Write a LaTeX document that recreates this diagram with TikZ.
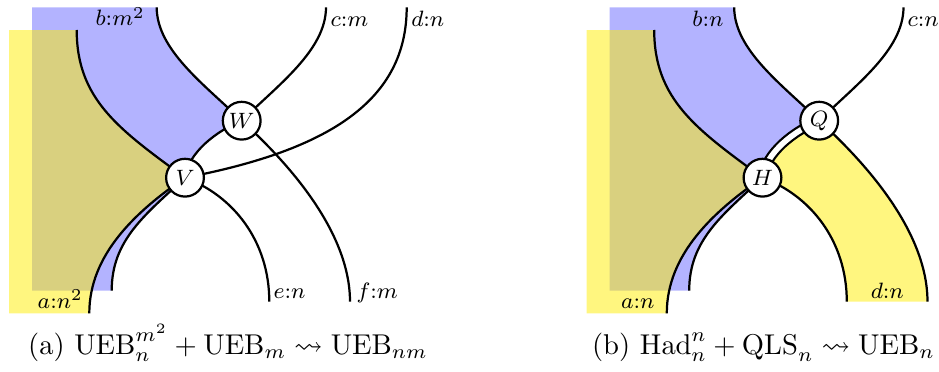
\documentclass[tikz,border=0pt]{standalone}
\usepackage{amssymb}
\usepackage{graphicx}
\pgfdeclarelayer{background}
\pgfsetlayers{background,main}
\definecolor{ueblue}{RGB}{179,179,255}
\definecolor{ueyel}{RGB}{255,237,0}
\begin{document}
\begin{tikzpicture}[x=0.36pt,y=-0.36pt,
  wire/.style={line width=0.8pt},
  bluereg/.style={fill=ueblue},
  yelreg/.style={fill=ueyel, fill opacity=0.5},
  gate/.style={circle, draw, line width=0.8pt, fill=white, minimum size=13.6pt, inner sep=0pt, font=\footnotesize},
  lbl/.style={font=\footnotesize, inner sep=0pt},
  captext/.style={font=\normalsize, inner sep=0pt, anchor=base}]
\useasboundingbox (0,0) rectangle (939,372);

% ---------------- left diagram ----------------
\node[gate] (W) at (241.7,120.7) {$W$};
\node[gate] (V) at (185,177.7) {$V$};
\coordinate (b1) at (156.7,7.3);
\coordinate (c1) at (326,7.3);
\coordinate (d1) at (406.7,7.3);
\coordinate (a1) at (76.7,30);
\coordinate (a2) at (89.3,313.3);
\coordinate (b2) at (111.7,290.7);
\coordinate (e1) at (269.3,301.7);
\coordinate (f1) at (350,301.7);
\begin{pgfonlayer}{background}
\fill[bluereg] (32,7.3) -- (b1) .. controls (156.7,50) and (205,85) .. (W.center)
  .. controls (216.7,130.7) and (188,152.7) .. (V.center)
  .. controls (145,215) and (111.7,240) .. (b2) -- (32,290.7) -- cycle;
\fill[yelreg] (9,30) -- (a1) .. controls (76.7,100) and (120,130) .. (V.center)
  .. controls (135,212) and (89.3,255) .. (a2) -- (9,313.3) -- cycle;
\draw[wire] (b1) .. controls (156.7,50) and (205,85) .. (W.center);
\draw[wire] (c1) .. controls (326,50) and (278,85) .. (W.center);
\draw[wire] (d1) .. controls (406.7,100) and (330,150) .. (V.center);
\draw[wire] (W.center) .. controls (216.7,130.7) and (188,152.7) .. (V.center);
\draw[wire] (a1) .. controls (76.7,100) and (120,130) .. (V.center);
\draw[wire] (V.center) .. controls (135,212) and (89.3,255) .. (a2);
\draw[wire] (V.center) .. controls (145,215) and (111.7,240) .. (b2);
\draw[wire] (V.center) .. controls (232,195) and (269.3,240) .. (e1);
\draw[wire] (W.center) .. controls (285,160) and (350,230) .. (f1);
\end{pgfonlayer}
\node[lbl, anchor=base east] (lb) at (145.3,26) {$b{:}m^2$};
\node[lbl, anchor=base west] (lc) at (330,26.5) {$c{:}m$};
\node[lbl, anchor=base west] (ld) at (410.7,26.5) {$d{:}n$};
\node[lbl, anchor=base east] (la) at (83.3,308) {$a{:}n^2$};
\node[lbl, anchor=base west] (le) at (273,298.3) {$e{:}n$};
\node[lbl, anchor=base west] (lf) at (356,298.3) {$f{:}m$};

% ---------------- right diagram ----------------
\begin{scope}[shift={(577.5,0)}]
\node[gate] (Q) at (241.7,120.7) {$Q$};
\node[gate] (H) at (185,177.7) {$H$};
\coordinate (rb1) at (156.7,7.3);
\coordinate (rc1) at (326,7.3);
\coordinate (ra1) at (76.7,30);
\coordinate (ra2) at (89.3,313.3);
\coordinate (rb2) at (111.7,290.7);
\coordinate (re1) at (269.3,301.7);
\coordinate (rf1) at (350,301.7);
\begin{pgfonlayer}{background}
\fill[bluereg] (32,7.3) -- (rb1) .. controls (156.7,50) and (205,85) .. (Q.center)
  .. controls (216.7,130.7) and (188,152.7) .. (H.center)
  .. controls (145,215) and (111.7,240) .. (rb2) -- (32,290.7) -- cycle;
\fill[yelreg] (9,30) -- (ra1) .. controls (76.7,100) and (120,130) .. (H.center)
  .. controls (135,212) and (89.3,255) .. (ra2) -- (9,313.3) -- cycle;
\fill[yelreg] (Q.center) .. controls (285,160) and (350,230) .. (rf1) -- (re1)
  .. controls (269.3,240) and (232,195) .. (H.center)
  .. controls (188,152.7) and (216.7,130.7) .. (Q.center) -- cycle;
\draw[wire] (rb1) .. controls (156.7,50) and (205,85) .. (Q.center);
\draw[wire] (rc1) .. controls (326,50) and (278,85) .. (Q.center);
\draw[wire, double=white, double distance=2pt] (Q.center) .. controls (216.7,130.7) and (188,152.7) .. (H.center);
\draw[wire] (ra1) .. controls (76.7,100) and (120,130) .. (H.center);
\draw[wire] (H.center) .. controls (135,212) and (89.3,255) .. (ra2);
\draw[wire] (H.center) .. controls (145,215) and (111.7,240) .. (rb2);
\draw[wire] (H.center) .. controls (232,195) and (269.3,240) .. (re1);
\draw[wire] (Q.center) .. controls (285,160) and (350,230) .. (rf1);
\end{pgfonlayer}
\node[lbl, anchor=base east] (rlb) at (146.5,26.5) {$b{:}n$};
\node[lbl, anchor=base west] (rlc) at (329.5,26.5) {$c{:}n$};
\node[lbl, anchor=base east] (rla) at (77.5,308) {$a{:}n$};
\node[lbl, anchor=base] (rld) at (309.8,298.3) {$d{:}n$};
\end{scope}

% ---------------- captions ----------------
\node[captext] (capa) at (228,354.3) {\scalebox{1.03}{(a) $\mathrm{UEB}_n^{m^2} + \mathrm{UEB}_m \rightsquigarrow \mathrm{UEB}_{nm}$}};
\node[captext] (capb) at (763.5,354.3) {\scalebox{1.03}{(b) $\mathrm{Had}_n^{n} + \mathrm{QLS}_n \rightsquigarrow \mathrm{UEB}_n$}};
\end{tikzpicture}
\end{document}
